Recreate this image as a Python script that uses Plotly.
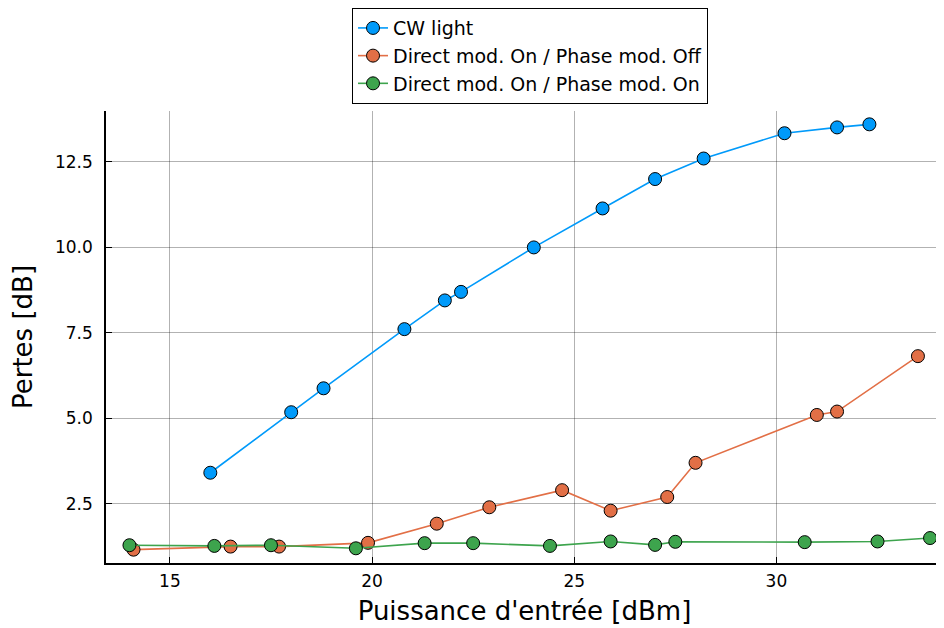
import plotly.graph_objects as go

cw_x = [16.0, 18.0, 18.8, 20.8, 21.8, 22.2, 24.0, 25.7, 27.0, 28.2, 30.2, 31.5, 32.3]
cw_y = [3.41, 5.18, 5.88, 7.61, 8.45, 8.70, 10.0, 11.14, 12.0, 12.6, 13.34, 13.51, 13.6]

off_x = [14.1, 16.5, 17.7, 19.9, 21.6, 22.9, 24.7, 25.9, 27.3, 28.0, 31.0, 31.5, 33.5]
off_y = [1.16, 1.25, 1.25, 1.36, 1.92, 2.40, 2.90, 2.30, 2.70, 3.70, 5.10, 5.20, 6.82]

on_x = [14.0, 16.1, 17.5, 19.6, 21.3, 22.5, 24.4, 25.9, 27.0, 27.5, 30.7, 32.5, 33.8]
on_y = [1.29, 1.27, 1.29, 1.20, 1.35, 1.35, 1.27, 1.40, 1.30, 1.39, 1.38, 1.40, 1.50]

names = ["CW light", "Direct mod. On / Phase mod. Off", "Direct mod. On / Phase mod. On"]
colors = ["#009AFA", "#E26F46", "#3DA44D"]

x_ticks = [15, 20, 25, 30]
y_ticks = [2.5, 5.0, 7.5, 10.0, 12.5]
y_tick_labels = ["2.5", "5.0", "7.5", "10.0", "12.5"]

FONT = "DejaVu Sans"

fig = go.Figure()
for xs, ys, nm, c in zip([cw_x, off_x, on_x], [cw_y, off_y, on_y], names, colors):
    fig.add_trace(go.Scatter(
        x=xs, y=ys, name=nm, mode="lines+markers",
        line=dict(color=c, width=1.6),
        marker=dict(color=c, size=13, line=dict(color="black", width=1)),
    ))

# page body has an 8px margin: the figure is sized/margined to compensate
fig.update_layout(
    width=936, height=620,
    paper_bgcolor="white", plot_bgcolor="white",
    margin=dict(l=98, r=1, t=102, b=65),
    font=dict(family=FONT, color="black", size=17),
    legend=dict(
        x=0.5066, xanchor="center", y=1.225, yanchor="top",
        bordercolor="black", borderwidth=1, bgcolor="white",
        font=dict(family=FONT, size=19), tracegroupgap=0,
    ),
    xaxis=dict(
        range=[13.42, 34.12], tickvals=x_ticks, ticktext=[str(t) for t in x_ticks],
        showgrid=True, gridcolor="rgba(0,0,0,0.3)", gridwidth=1,
        showline=True, linecolor="black", linewidth=1.5, mirror=False,
        ticks="inside", ticklen=6, tickcolor="black", zeroline=False,
        tickfont=dict(family=FONT, size=17), ticklabelstandoff=2,
        title=dict(text="Puissance d'entrée [dBm]", font=dict(family=FONT, size=26), standoff=12),
    ),
    yaxis=dict(
        range=[0.77, 13.99], tickvals=y_ticks, ticktext=y_tick_labels,
        showgrid=True, gridcolor="rgba(0,0,0,0.3)", gridwidth=1,
        showline=True, linecolor="black", linewidth=1.5, mirror=False,
        ticks="inside", ticklen=6, tickcolor="black", zeroline=False,
        tickfont=dict(family=FONT, size=17), ticklabelstandoff=8,
        title=dict(text="Pertes [dB]", font=dict(family=FONT, size=26), standoff=15),
    ),
)

fig.write_html("out.html")
